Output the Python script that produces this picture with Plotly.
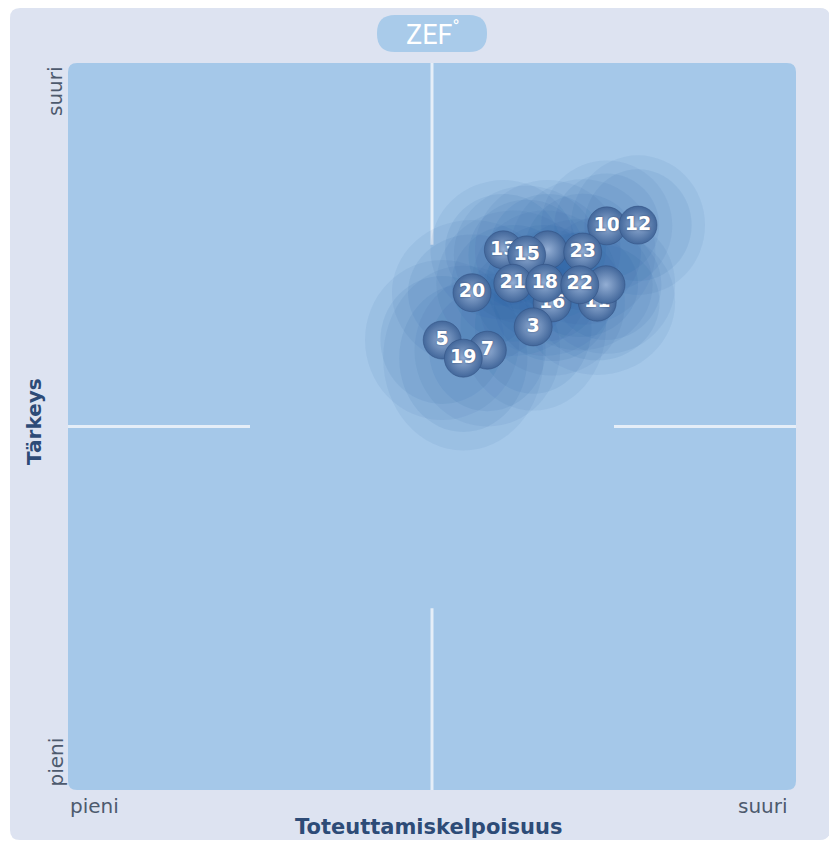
import plotly.graph_objects as go

# ---- data (scale 0..100 on both axes) ----
labels = ["", "13", "15", "10", "12", "23", "16", "11", "", "20", "21", "18", "22", "3", "5", "7", "19"]
feasibility = [65.9, 59.8, 63.0, 74.0, 78.3, 70.7, 66.5, 72.7, 73.9, 55.5, 61.1, 65.5, 70.3, 63.9, 51.4, 57.6, 54.3]
importance = [74.3, 74.3, 73.6, 77.6, 77.7, 74.0, 67.0, 67.1, 69.5, 68.4, 69.7, 69.7, 69.5, 63.7, 61.9, 60.5, 59.4]
spread_x = [10.0, 10.0, 10.0, 9.0, 9.2, 10.0, 10.0, 10.7, 9.5, 11.0, 10.5, 10.0, 10.0, 10.0, 10.6, 10.0, 11.0]
spread_y = [9.6, 9.6, 9.5, 9.0, 9.6, 10.0, 10.0, 10.0, 9.5, 10.0, 10.0, 10.0, 9.0, 11.5, 11.0, 10.5, 12.7]
axis_min, axis_mid_lo, axis_mid_hi, axis_max = 0, 25, 75, 100
x_title = "Toteuttamiskelpoisuus"
y_title = "Tärkeys"
low_label, high_label = "pieni", "suuri"

# ---- geometry helpers (reference pixel -> paper) ----
OFF = 8  # page body margin
FW, FH = 837 - OFF, 843 - OFF
L, R, T, B = 68, 796, 63, 790
W, H = R - L, B - T


def px(x):
    return (x - L) / W


def py(y):
    return (B - y) / H


def rounded(x0, y0, x1, y1, r):
    pts = [
        f"M {px(x0 + r)},{py(y0)}",
        f"L {px(x1 - r)},{py(y0)}",
        f"Q {px(x1)},{py(y0)} {px(x1)},{py(y0 + r)}",
        f"L {px(x1)},{py(y1 - r)}",
        f"Q {px(x1)},{py(y1)} {px(x1 - r)},{py(y1)}",
        f"L {px(x0 + r)},{py(y1)}",
        f"Q {px(x0)},{py(y1)} {px(x0)},{py(y1 - r)}",
        f"L {px(x0)},{py(y0 + r)}",
        f"Q {px(x0)},{py(y0)} {px(x0 + r)},{py(y0)}",
        "Z",
    ]
    return " ".join(pts)


shapes = []
shapes.append(dict(type="path", xref="paper", yref="paper", layer="below",
                   path=rounded(10, 8, 830, 840, 10),
                   fillcolor="#dde3f1", line=dict(width=0)))
shapes.append(dict(type="path", xref="paper", yref="paper", layer="below",
                   path=rounded(L, T, R, B, 9),
                   fillcolor="#a5c8e9", line=dict(width=0)))
shapes.append(dict(type="path", xref="paper", yref="paper", layer="below",
                   path=rounded(377, 15, 487, 52, 18),
                   fillcolor="#a9cbea", line=dict(width=0)))

line_style = dict(color="rgba(236,242,250,0.9)", width=3)
for a, b in [(axis_min, axis_mid_lo), (axis_mid_hi, axis_max)]:
    shapes.append(dict(type="line", xref="x", yref="y", layer="below",
                       x0=50, x1=50, y0=a, y1=b, line=line_style))
    shapes.append(dict(type="line", xref="x", yref="y", layer="below",
                       x0=a, x1=b, y0=50, y1=50, line=line_style))

# soft spread ellipses: two concentric layers per item
for xv, yv, sx, sy in zip(feasibility, importance, spread_x, spread_y):
    for k, alpha in [(1.0, 0.075), (0.8, 0.085)]:
        shapes.append(dict(type="circle", xref="x", yref="y", layer="below",
                           x0=xv - sx * k, x1=xv + sx * k, y0=yv - sy * k, y1=yv + sy * k,
                           fillcolor=f"rgba(40,90,160,{alpha})", line=dict(width=0)))

fig = go.Figure()
for lab, xv, yv in zip(labels, feasibility, importance):
    fig.add_trace(go.Scatter(
        x=[xv], y=[yv], mode="markers+text" if lab else "markers",
        text=[lab] if lab else None,
        textposition="middle center",
        textfont=dict(family="DejaVu Sans", size=19, color="white", weight="bold",
                      shadow="0px 0px 2px rgba(30,50,90,0.7)"),
        marker=dict(size=38, color="#42679b",
                    gradient=dict(type="radial", color="#93aed4"),
                    line=dict(color="rgba(50,80,130,0.55)", width=1)),
        hoverinfo="skip", showlegend=False, cliponaxis=False))

tick_font = dict(family="DejaVu Sans", size=20, color="#4d5a6e")
title_font = dict(family="DejaVu Sans", size=21, color="#2d4b77", weight="bold")
annotations = [
    dict(text=high_label, x=px(55), y=py(64), xref="paper", yref="paper",
         textangle=-90, xanchor="center", yanchor="top", showarrow=False, font=tick_font),
    dict(text=low_label, x=px(55), y=py(789), xref="paper", yref="paper",
         textangle=-90, xanchor="center", yanchor="bottom", showarrow=False, font=tick_font),
    dict(text=low_label, x=px(68), y=py(806), xref="paper", yref="paper",
         xanchor="left", yanchor="middle", showarrow=False, font=tick_font),
    dict(text=high_label, x=px(790), y=py(806), xref="paper", yref="paper",
         xanchor="right", yanchor="middle", showarrow=False, font=tick_font),
    dict(text=x_title, x=px(428), y=py(827), xref="paper", yref="paper",
         xanchor="center", yanchor="middle", showarrow=False, font=title_font),
    dict(text=y_title, x=px(34), y=py(422), xref="paper", yref="paper",
         textangle=-90, xanchor="center", yanchor="middle", showarrow=False,
         font=dict(family="DejaVu Sans", size=20, color="#2d4b77", weight="bold")),
    dict(text="ZEF<sup>°</sup>", x=px(433), y=py(33), xref="paper", yref="paper",
         xanchor="center", yanchor="middle", showarrow=False,
         font=dict(family="Liberation Sans Narrow, Roboto, DejaVu Sans Condensed, sans-serif",
                   size=27, color="white")),
]

fig.update_layout(
    width=FW, height=FH,
    margin=dict(l=L - OFF, r=FW - (R - OFF), t=T - OFF, b=FH - (B - OFF), autoexpand=False),
    paper_bgcolor="white", plot_bgcolor="rgba(0,0,0,0)",
    shapes=shapes, annotations=annotations,
    xaxis=dict(range=[axis_min, axis_max], showgrid=False, zeroline=False,
               showticklabels=False, ticks="", showline=False, fixedrange=True),
    yaxis=dict(range=[axis_min, axis_max], showgrid=False, zeroline=False,
               showticklabels=False, ticks="", showline=False, fixedrange=True),
)

fig.write_html("out.html")
